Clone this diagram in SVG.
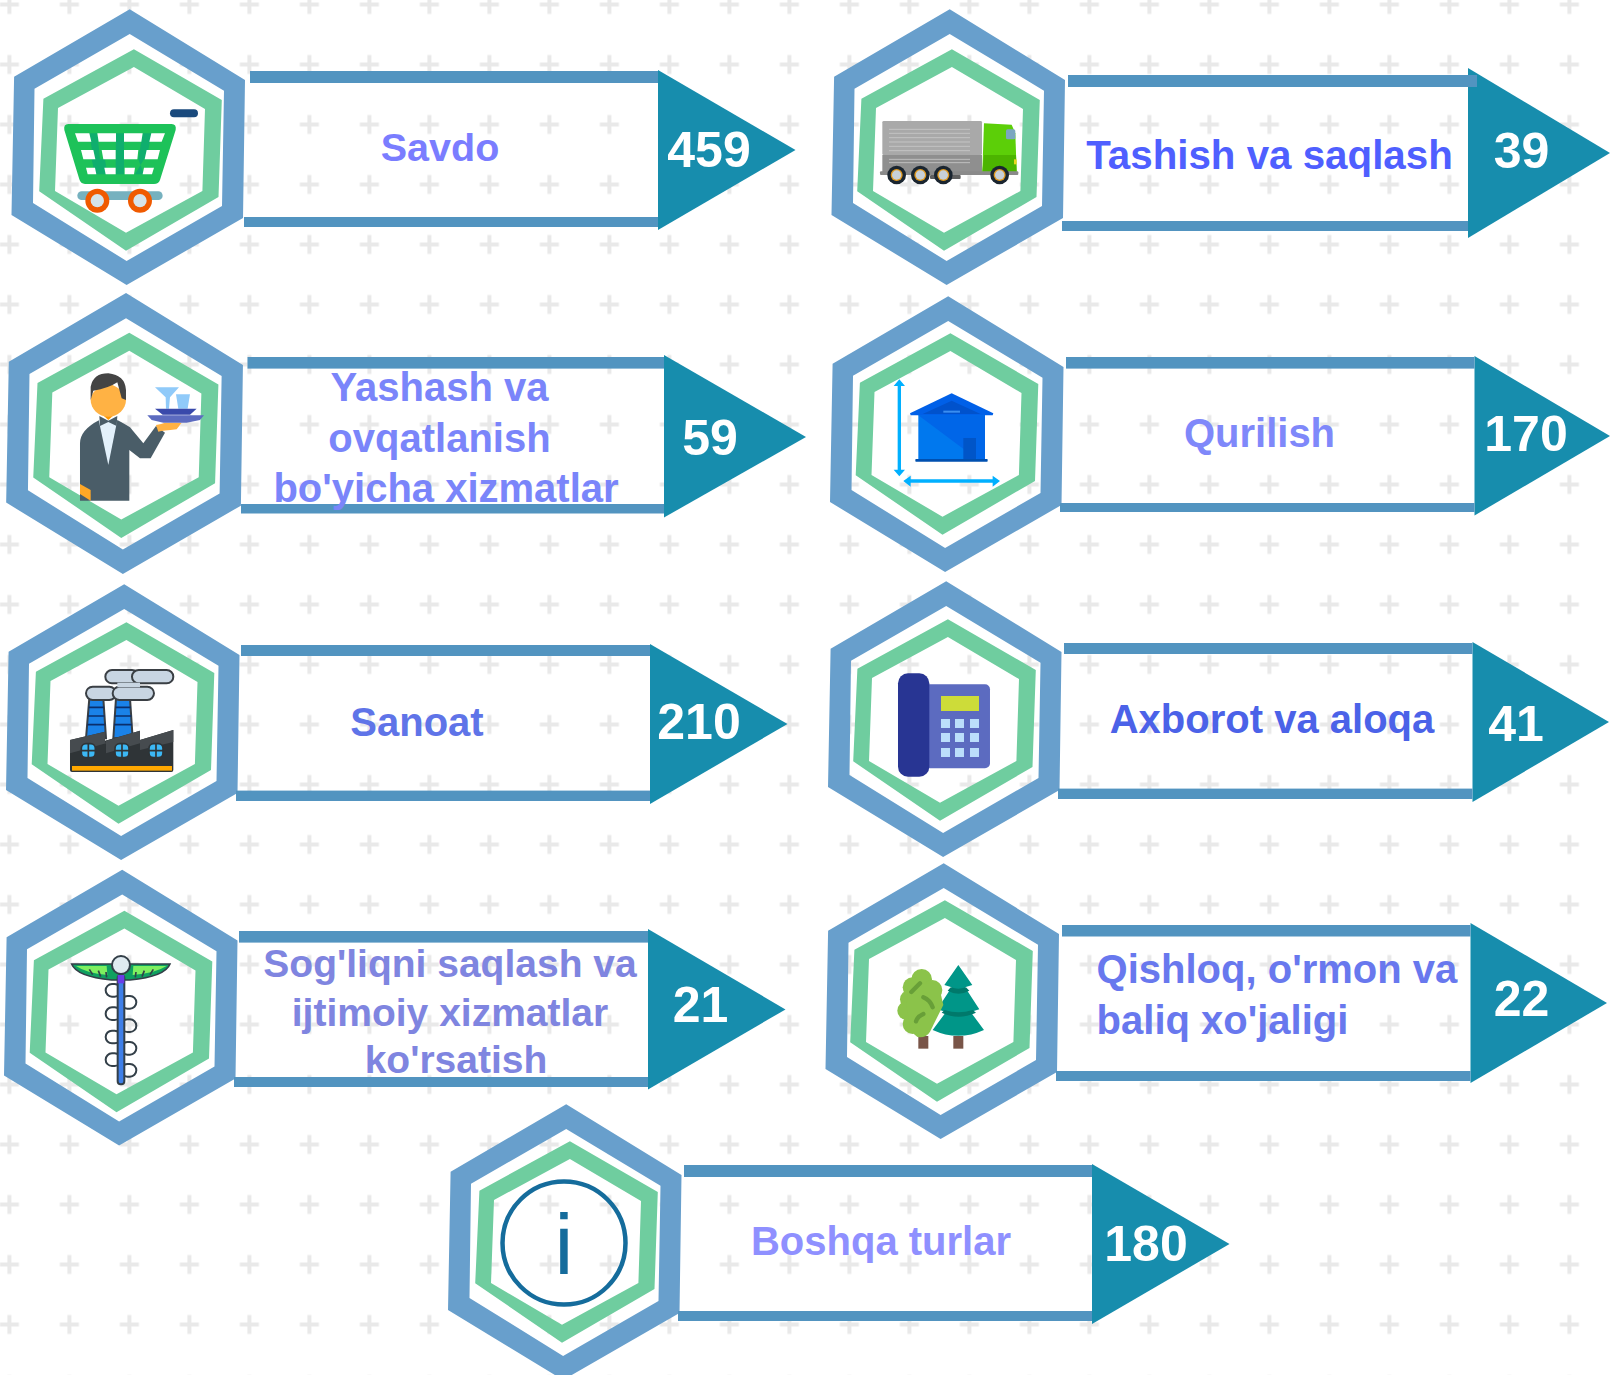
<svg xmlns="http://www.w3.org/2000/svg" xmlns:xlink="http://www.w3.org/1999/xlink" width="1610" height="1375" viewBox="0 0 1610 1375">
<style>
.ring{fill:#689fcc;fill-rule:evenodd}
.gring{fill:#6fcd9f;fill-rule:evenodd}
.bar{fill:#5294c0}
.arrow{fill:#178dad}
text{font-family:"Liberation Sans",Arial,sans-serif;font-weight:700}
.lab{font-size:40px;text-anchor:middle}
.num{font-size:50px;fill:#fff;text-anchor:middle}
.coil{fill:none;stroke:#333f48;stroke-width:6}
</style>
<defs>
<pattern id="plus" x="-20.6" y="-25.5" width="60" height="60" patternUnits="userSpaceOnUse">
<path d="M20.5 30H39.5M30 20.5V39.5" stroke="#e9e9e9" stroke-width="4" fill="none"/>
</pattern>
<path id="hexo" class="ring" d="M129.7 9.3L14.1 76.7L11.5 215L126.6 285L243 218L245 80ZM129.7 34L34.5 88.7L33 203L126.6 261L222 206L224 90.7Z"/>
<path id="hexg" class="gring" d="M133.9 49.3L221.8 100L218.5 197L126 250.7L39.2 191.3L43.4 98.7ZM133.9 67L58 108L55 191L126 232.7L202.4 191L205 109Z"/>
</defs>
<rect width="1610" height="1375" fill="#fff"/>
<rect id="bg" width="1610" height="1375" fill="url(#plus)"/>

<g id="node-savdo">
<use href="#hexo"/><use href="#hexg"/>
<polygon class="arrow" points="658,70 795.5,150 658,230"/>
<rect class="bar" x="250" y="71" width="408" height="12"/>
<rect class="bar" x="244" y="217" width="414" height="10"/>
<text class="lab" x="440" y="160.5" fill="#7a7dff" style="font-size:39.5px">Savdo</text>
<text class="num" x="709" y="167">459</text>
<g transform="translate(50 100) scale(.3333)">
<rect x="360" y="28" width="84" height="24" rx="12" fill="#1a4a7d"/>
<rect x="82" y="274" width="256" height="26" rx="13" fill="#76b1bf"/>
<path d="M55 72H365Q380 72 377 90L330 240Q326 252 312 252H105Q92 252 88 238L43 90Q40 72 55 72Z" fill="#1dc259"/>
<path d="M118 100H142L150 178H165L172 223H135L125 178H130ZM198 100H222V223H197ZM278 100H304L290 178H282L255 223H282L265 178Z" fill="#0fae6e"/>
<path fill="#fff" d="M75 100H118L124 125H84ZM142 100H198V125H146ZM222 100H278L274 125H222ZM304 100H345L335 125H298ZM93 150H130L136 178H100ZM155 150H197V178H160ZM222 150H265L262 178H222ZM290 150H330L323 178H284ZM108 203H135L139 223H113ZM163 203H197V223H167ZM224 203H255L252 223H224ZM282 203H312L306 223H278Z"/>
<circle cx="142" cy="302" r="36" fill="#f05a00"/><circle cx="142" cy="302" r="20" fill="#d5e3ea"/>
<circle cx="270" cy="302" r="36" fill="#f05a00"/><circle cx="270" cy="302" r="20" fill="#d5e3ea"/>
</g>
</g>

<g id="node-tashish">
<use href="#hexo" transform="translate(820 0)"/><use href="#hexg" transform="translate(818 0)"/>
<polygon class="arrow" points="1468,68 1610,153 1468,238"/>
<rect class="bar" x="1068" y="75" width="409" height="12"/>
<rect class="bar" x="1062" y="221" width="406" height="10"/>
<text class="lab" x="1269.5" y="169" fill="#4f5fff" style="font-size:40.3px">Tashish va saqlash</text>
<text class="num" x="1521.5" y="168">39</text>
<g transform="translate(870 110) scale(.3333)">
<rect x="37" y="33" width="299" height="102" rx="4" fill="#a9a9a9"/>
<rect x="37" y="135" width="299" height="52" fill="#8f8f8f"/>
<path d="M57 58H300M57 70H300M57 83H300M57 96H300M57 109H300M57 122H300M57 148H300M57 158H300" stroke="#c9c9c9" stroke-width="2.5"/>
<rect x="180" y="195" width="92" height="12" rx="3" fill="#5f5f5f"/>
<path d="M342 40L425 44L436 70L440 186H337Z" fill="#5ccf08"/>
<path d="M342 135H438L440 186H337Z" fill="#4cb400"/>
<rect x="408" y="58" width="28" height="30" rx="5" fill="#7ba6c0"/>
<rect x="432" y="148" width="8" height="15" fill="#e8d820"/>
<rect x="30" y="184" width="415" height="11" rx="3" fill="#8a8a8a"/>
<g id="w"><circle cx="80" cy="195" r="28" fill="#1a2530"/><circle cx="80" cy="195" r="18" fill="#e09a20"/><circle cx="80" cy="195" r="14" fill="#c8d0d8"/></g>
<use href="#w" x="71"/><use href="#w" x="140"/><use href="#w" x="309"/>
</g>
</g>

<g id="node-yashash">
<use href="#hexo" transform="translate(-5.5 283.5) scale(1.014 1.019)"/><use href="#hexg" transform="translate(-6.5 282.5) scale(1.014 1.019)"/>
<polygon class="arrow" points="664,355 806,437 664,517.5"/>
<rect class="bar" x="247.5" y="357" width="416.5" height="11.6"/>
<rect class="bar" x="241" y="504" width="423" height="9.5"/>
<text class="lab" x="439.5" y="401" fill="#7a85fa">Yashash va</text>
<text class="lab" x="439.5" y="451.5" fill="#7a85fa">ovqatlanish</text>
<text class="lab" x="446" y="501.5" fill="#7a85fa">bo'yicha xizmatlar</text>
<text class="num" x="710" y="455">59</text>
<g transform="translate(30 340) scale(.3333)">
<path d="M150 482V310Q150 270 208 240H262Q290 255 300 262L340 310L378 258L405 278L362 355H330L298 330V482Z" fill="#4a5d68"/>
<path d="M150 432L182 450V482L150 462Z" fill="#ffa726"/>
<path d="M206 240H262L235 375Z" fill="#e3f1fb"/>
<path d="M215 222H255L235 240Z" fill="#ff9800"/>
<path d="M182 180Q182 150 235 130Q288 150 288 180A53 50 0 0 1 182 180Z" fill="#ffb244"/>
<path d="M182 180V140Q190 100 235 100Q285 105 288 150V180L275 175L262 127Q235 145 190 152Z" fill="#444"/>
<path d="M208 228L235 242L262 228L260 258L235 246L210 258Z" fill="#4a5d68"/>
<path d="M378 255Q395 252 405 248H455L440 268Q400 272 385 275Z" fill="#ffb244"/>
<path d="M375 142H447L420 172L417 206H408L407 172Z" fill="#90caf9"/>
<path d="M438 163H480L473 206H445Z" fill="#90caf9"/>
<path d="M375 206H500L480 224H398Z" fill="#3949ab"/>
<path d="M352 226H522L510 240L470 248H400L365 240Z" fill="#5c6bc0"/>
</g>
</g>

<g id="node-qurilish">
<use href="#hexo" transform="translate(818.5 287)"/><use href="#hexg" transform="translate(816.5 284)"/>
<polygon class="arrow" points="1474.5,356 1610,436 1474.5,515.5"/>
<rect class="bar" x="1066" y="357" width="408.5" height="11.6"/>
<rect class="bar" x="1060" y="503" width="414.5" height="9"/>
<text class="lab" x="1259.5" y="447" fill="#7f88fa">Qurilish</text>
<text class="num" x="1526" y="451">170</text>
<g transform="translate(850 350) scale(.3333)">
<rect x="205" y="194" width="200" height="136" fill="#0078ee"/>
<path d="M205 196H405V330H385Z" fill="#0066e8"/>
<rect x="340" y="264" width="38" height="66" fill="#0055c8"/>
<rect x="196" y="327" width="217" height="8" rx="2" fill="#0050b0"/>
<path d="M305 130L430 190L428 196H182L180 190Z" fill="#0060e8"/>
<path d="M305 152L392 192H218Z" fill="#0052cc"/>
<rect x="280" y="182" width="50" height="6" fill="#3a8ef0"/>
<path d="M148 100V367M172 393H440" stroke="#00b0ff" stroke-width="10" fill="none"/>
<path d="M148 88L165 108H131ZM148 379L165 359H131ZM160 393L182 377V410ZM450 393L428 377V410Z" fill="#00b0ff"/>
</g>
</g>

<g id="node-sanoat">
<use href="#hexo" transform="translate(-5.5 575)"/><use href="#hexg" transform="translate(-7.5 573)"/>
<polygon class="arrow" points="650,644 787.5,724 650,804"/>
<rect class="bar" x="241" y="645" width="409" height="11"/>
<rect class="bar" x="236" y="790.6" width="414" height="10.4"/>
<text class="lab" x="417" y="735.5" fill="#5f74e8">Sanoat</text>
<text class="num" x="699" y="739">210</text>
<g transform="translate(50 630) scale(.3333)">
<path d="M118 205H160L168 325H108ZM198 205H240L248 325H190Z" fill="#1a82e8" stroke="#3a3f44" stroke-width="6"/>
<path d="M116 232H162M114 258H164M112 284H166M196 232H242M194 258H244M192 284H246" stroke="#0a2f6c" stroke-width="5"/>
<g fill="#c8d5e2" stroke="#3a3f44" stroke-width="6">
<rect x="166" y="120" width="100" height="40" rx="20"/>
<rect x="108" y="170" width="90" height="40" rx="20"/>
<rect x="246" y="120" width="124" height="40" rx="20"/>
<rect x="188" y="170" width="124" height="40" rx="20"/>
</g>
<path d="M202 158H270V172H202Z" fill="#c8d5e2"/>
<path d="M60 330L165 305V332L270 302V330L370 300V420Q370 426 364 426H66Q60 426 60 420Z" fill="#2f3437"/>
<path d="M60 330L165 305V335L168 340L60 370ZM168 332L270 302V340L168 370ZM270 330L370 300V336L270 360Z" fill="#464b4f"/>
<rect x="66" y="408" width="300" height="14" fill="#ffa800"/>
<g fill="#3cb8f5" stroke="#2f3437" stroke-width="5">
<rect x="94" y="341" width="42" height="42" rx="14"/><rect x="195" y="341" width="42" height="42" rx="14"/><rect x="297" y="341" width="42" height="42" rx="14"/>
<path d="M115 341V383M94 362H136M216 341V383M195 362H237M318 341V383M297 362H339" fill="none"/>
</g>
</g>
</g>

<g id="node-axborot">
<use href="#hexo" transform="translate(816.5 572)"/><use href="#hexg" transform="translate(814 570)"/>
<polygon class="arrow" points="1472.5,642 1609,722 1472.5,802"/>
<rect class="bar" x="1064" y="643" width="408.5" height="11"/>
<rect class="bar" x="1058" y="788.6" width="414.5" height="10.4"/>
<text class="lab" x="1272" y="733" fill="#4b62e8">Axborot va aloqa</text>
<text class="num" x="1516" y="741">41</text>
<g transform="translate(870 650) scale(.3333)">
<rect x="160" y="103" width="200" height="252" rx="15" fill="#5c6bc0"/>
<rect x="84" y="70" width="94" height="310" rx="30" fill="#283593"/>
<rect x="213" y="138" width="114" height="45" fill="#cddc39"/>
<g fill="#bbdefb">
<rect x="213" y="207" width="27" height="27"/><rect x="255" y="207" width="27" height="27"/><rect x="300" y="207" width="27" height="27"/>
<rect x="213" y="249" width="27" height="27"/><rect x="255" y="249" width="27" height="27"/><rect x="300" y="249" width="27" height="27"/>
<rect x="213" y="294" width="27" height="27"/><rect x="255" y="294" width="27" height="27"/><rect x="300" y="294" width="27" height="27"/>
</g>
</g>
</g>

<g id="node-sogliq">
<use href="#hexo" transform="translate(-7.5 860.5)"/><use href="#hexg" transform="translate(-9.5 861.5)"/>
<polygon class="arrow" points="648,929 785.5,1009.4 648,1089.4"/>
<rect class="bar" x="239" y="931" width="409" height="11.6"/>
<rect class="bar" x="234" y="1077" width="414" height="10"/>
<text class="lab" x="450" y="977" fill="#7f85e0" style="font-size:39px">Sog'liqni saqlash va</text>
<text class="lab" x="450" y="1025.5" fill="#7f85e0" style="font-size:39px">ijtimoiy xizmatlar</text>
<text class="lab" x="456" y="1073" fill="#7f85e0" style="font-size:39px">ko'rsatish</text>
<text class="num" x="700.5" y="1022">21</text>
<g transform="translate(50 940) scale(.3333)">
<path d="M65 72H360Q345 110 240 120H185Q80 110 65 72Z" fill="#0fa060" stroke="#333f48" stroke-width="5"/>
<path d="M78 78H170L172 105Q110 100 78 78ZM350 78H250L248 105Q315 100 350 78Z" fill="#7ef060"/>
<path d="M118 88L128 104M145 92L152 110M168 96L170 112M310 88L300 104M283 92L276 110M258 96L256 112" stroke="#333f48" stroke-width="5"/>
<rect class="coil" x="167" y="132" width="46" height="38" rx="19"/>
<rect class="coil" x="167" y="202" width="46" height="38" rx="19"/>
<rect class="coil" x="167" y="272" width="46" height="38" rx="19"/>
<rect class="coil" x="167" y="340" width="46" height="38" rx="19"/>
<rect class="coil" x="213" y="168" width="46" height="38" rx="19"/>
<rect class="coil" x="213" y="238" width="46" height="38" rx="19"/>
<rect class="coil" x="213" y="306" width="46" height="38" rx="19"/>
<rect class="coil" x="213" y="372" width="46" height="38" rx="19"/>
<rect x="203" y="105" width="20" height="328" rx="9" fill="#3f7fe8" stroke="#333f48" stroke-width="6"/>
<rect x="203" y="105" width="20" height="25" fill="#6a3de8"/>
<circle cx="213" cy="75" r="27" fill="#dfeaf0" stroke="#333f48" stroke-width="6"/>
</g>
</g>

<g id="node-qishloq">
<use href="#hexo" transform="translate(814 854)"/><use href="#hexg" transform="translate(811 851)"/>
<polygon class="arrow" points="1470.5,923 1607,1003 1470.5,1083"/>
<rect class="bar" x="1062" y="925" width="408.5" height="11.5"/>
<rect class="bar" x="1056" y="1071" width="414.5" height="10"/>
<text class="lab" x="1096.6" y="983" fill="#6878ee" style="text-anchor:start">Qishloq, o'rmon va</text>
<text class="lab" x="1096.6" y="1033.5" fill="#6878ee" style="text-anchor:start">baliq xo'jaligi</text>
<text class="num" x="1521.5" y="1015.5">22</text>
<g transform="translate(880 950) scale(.3333)">
<rect x="115" y="258" width="30" height="38" fill="#795548"/>
<rect x="220" y="258" width="30" height="38" fill="#795548"/>
<path d="M235 45L277 105L255 112L298 178L272 186L312 240Q235 275 158 240L198 186L172 178L215 112L193 105Z" fill="#009688"/>
<path d="M203 122Q235 140 268 122L258 112Q235 120 212 112ZM185 188Q235 212 288 188L278 180Q235 194 194 180Z" fill="#00796b"/>
<g fill="#8bc34a">
<circle cx="125" cy="88" r="31"/><circle cx="98" cy="112" r="30"/><circle cx="157" cy="120" r="30"/><circle cx="88" cy="148" r="28"/><circle cx="80" cy="182" r="28"/><circle cx="98" cy="222" r="30"/>
<path d="M85 100H175L190 165L150 245Q140 262 120 262Q100 260 90 230L80 170Z"/>
</g>
<path d="M94 126Q104 116 120 100M130 142Q150 150 158 172M108 214Q112 200 130 192" stroke="#689f38" stroke-width="13" fill="none" stroke-linecap="round"/>
</g>
</g>

<g id="node-boshqa">
<use href="#hexo" transform="translate(436.5 1095)"/><use href="#hexg" transform="translate(436 1092)"/>
<polygon class="arrow" points="1092,1164 1229.5,1244 1092,1324"/>
<rect class="bar" x="684" y="1165" width="408" height="12"/>
<rect class="bar" x="678" y="1311" width="414" height="10"/>
<text class="lab" x="881" y="1255" fill="#8f90ff">Boshqa turlar</text>
<text class="num" x="1146" y="1261">180</text>
<circle cx="564" cy="1243" r="61.5" fill="none" stroke="#156c9c" stroke-width="4.5"/>
<text x="564" y="1274" style="font-size:85px;font-weight:400;text-anchor:middle" fill="#156c9c">i</text>
</g>
</svg>
